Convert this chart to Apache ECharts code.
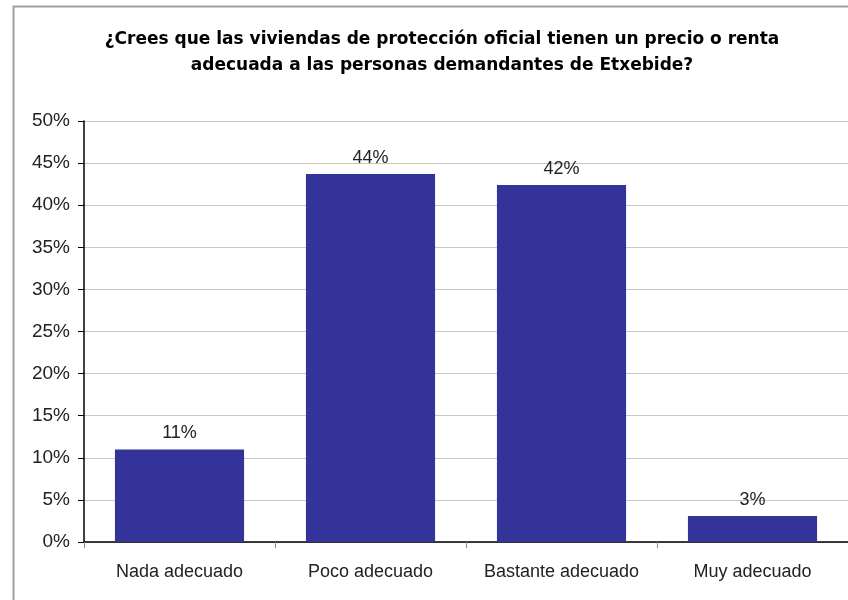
<!DOCTYPE html>
<html><head><meta charset="utf-8">
<script src="https://cdn.jsdelivr.net/npm/echarts@6/dist/echarts.min.js"></script>
<style>html,body{margin:0;padding:0;background:#fff}#c{width:848px;height:600px}</style>
</head><body><div id="c"></div>
<script>
const categories = ['Nada adecuado', 'Poco adecuado', 'Bastante adecuado', 'Muy adecuado'];
const values = [11.0, 43.7, 42.4, 3.1];
const titleLines = ['¿Crees que las viviendas de protección oficial tienen un precio o renta', 'adecuada a las personas demandantes de Etxebide?'];

const chart = echarts.init(document.getElementById('c'), null, {renderer: 'canvas'});
chart.setOption({
  animation: false,
  backgroundColor: '#fff',
  graphic: [{
    type: 'rect', left: 11, top: 4, z: -1,
    shape: {width: 900, height: 700},
    style: {fill: 'none', stroke: '#a0a0a0', lineWidth: 2}
  }],
  title: {
    text: titleLines.join('\n'),
    left: 437, textAlign: 'center', top: 22,
    textStyle: {fontFamily: 'DejaVu Sans', fontWeight: 'bold', fontSize: 17, lineHeight: 26, color: '#000'}
  },
  grid: {left: 84, right: -5, top: 121, bottom: 58, containLabel: false},
  xAxis: {
    type: 'category', data: categories,
    axisLine: {lineStyle: {color: '#000', width: 1.5}},
    axisTick: {show: true, interval: 0, length: 6, lineStyle: {color: '#888'}},
    axisLabel: {interval: 0, margin: 21, fontFamily: 'Liberation Sans', fontSize: 18, color: '#222'}
  },
  yAxis: {
    type: 'value', min: 0, max: 50, interval: 5,
    axisLine: {show: true, lineStyle: {color: '#000', width: 1.5}},
    axisTick: {show: true, length: 6, lineStyle: {color: '#000'}},
    axisLabel: {formatter: '{value}%', margin: 14, fontFamily: 'Liberation Sans', fontSize: 19, color: '#222'},
    splitLine: {show: true, lineStyle: {color: '#c8c8c8', width: 1}}
  },
  series: [{
    type: 'bar', data: values, barWidth: '67.6%',
    itemStyle: {color: '#333399'},
    label: {
      show: true, position: 'top', distance: 7,
      formatter: p => Math.round(p.value) + '%',
      fontFamily: 'Liberation Sans', fontSize: 18, color: '#222'
    }
  }]
});
</script></body></html>
